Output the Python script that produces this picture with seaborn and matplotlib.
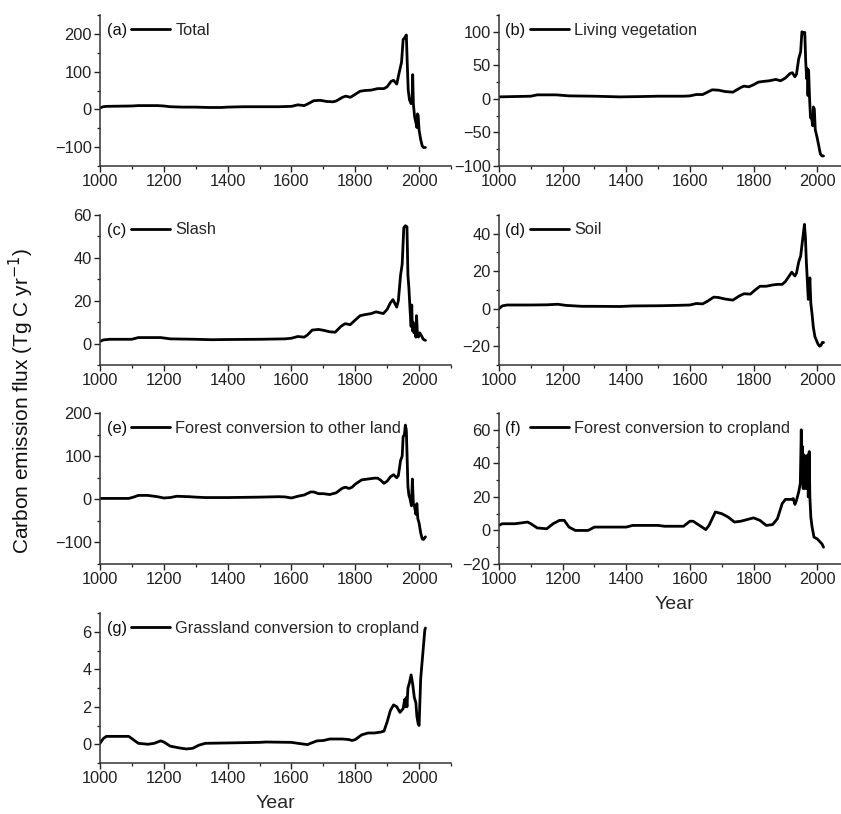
import numpy as np
import pandas as pd
import matplotlib
matplotlib.use("Agg")
import matplotlib.pyplot as plt
from matplotlib.ticker import MultipleLocator
import seaborn as sns

# ---------------- data ----------------
years_a = [1000,1010,1020,1100,1120,1180,1200,1220,1260,1300,1340,1380,1400,1450,1500,1560,1600,1620,1640,1650,1670,1690,1710,1730,1740,1760,1770,1785,1800,1815,1830,1850,1870,1890,1900,1912,1920,1930,1937,1945,1950,1955,1960,1963,1966,1970,1975,1978,1980,1982,1986,1990,1993,1995,1997,2000,2005,2010,2014,2020]
total = [4,7,8,9,10,10,9,7,6,6,5,5,6,7,7,7,8,12,10,14,23,24,21,20,22,32,35,32,40,48,50,51,55,55,60,74,77,67,95,125,185,190,197,120,50,25,15,20,92,15,-20,-35,-48,-12,-15,-55,-80,-97,-101,-101]

years_b = [1000,1050,1100,1120,1180,1220,1300,1380,1450,1500,1580,1600,1620,1640,1655,1670,1690,1710,1735,1760,1770,1785,1800,1815,1830,1850,1870,1885,1900,1915,1922,1930,1935,1942,1948,1952,1957,1961,1964,1967,1969,1971,1973,1976,1979,1983,1986,1988,1991,1994,2000,2005,2010,2015,2020]
living_veg = [3,3.5,4,6,6,4.5,4,3,3.5,4,4,4.5,6.5,6.5,10,13.5,13,11,10,17,19,18,21,25,26,27,29,27,31,38,39,33,37,60,70,100,98,99,55,30,45,5,43,2,-28,-30,-40,-12,-15,-46,-58,-70,-82,-85,-85]

years_c = [1000,1010,1030,1100,1120,1190,1220,1300,1350,1400,1500,1580,1600,1620,1640,1650,1665,1685,1700,1720,1737,1755,1768,1784,1800,1815,1830,1850,1865,1888,1900,1910,1918,1930,1935,1942,1947,1952,1957,1962,1965,1968,1972,1975,1977,1979,1981,1984,1987,1990,1992,1995,1998,2002,2008,2013,2020]
slash = [1,1.7,2,2,2.8,2.8,2.2,2,1.8,1.9,2,2.2,2.5,3.3,3,4,6.3,6.6,6.2,5.5,5.3,8,9.3,8.8,11,13,13.5,14,14.8,14,16,19,20.5,17,20,32,37,54,55,54.5,32,26,15,8,18,6,10,5,8,3,13,4,3,5,3.5,2,1.5]

years_d = [1000,1010,1025,1100,1150,1185,1210,1260,1300,1380,1420,1500,1560,1600,1620,1640,1655,1675,1690,1710,1735,1755,1770,1790,1805,1820,1840,1860,1875,1890,1900,1912,1920,1930,1935,1942,1948,1955,1960,1963,1966,1969,1972,1975,1977,1980,1984,1988,1993,1998,2003,2008,2012,2016,2020]
soil = [0,1.5,2,2,2.1,2.4,1.8,1.3,1.3,1.2,1.5,1.6,1.8,2,2.8,2.6,4,6.2,6,5.2,4.6,6.8,8,7.8,10,12,12,12.7,13,13,14.5,17.5,19.5,17.5,19,25,28,38,45,38,25,15,5,10,16.5,3,-3,-10,-15,-17,-19,-20,-19.5,-18,-18]

years_e = [1000,1050,1090,1105,1120,1150,1180,1200,1220,1240,1280,1300,1330,1400,1500,1560,1580,1600,1620,1640,1660,1670,1685,1700,1720,1740,1760,1770,1780,1790,1800,1820,1840,1860,1870,1880,1890,1900,1910,1920,1930,1935,1942,1947,1950,1954,1957,1960,1962,1965,1968,1972,1976,1979,1982,1986,1990,1993,1996,2000,2005,2010,2014,2020]
forest_other = [2,2,2,5,9,9,6,3,4,7,6,5,4,4,5,6,5.5,3,7,10,17,17,13,13,11,15,26,28,25,28,35,45,47,49,49,44,37,42,52,57,50,55,90,100,145,150,172,160,110,30,10,0,-15,47,-10,-18,-35,-10,-45,-55,-78,-92,-93,-87]

years_f = [1000,1010,1050,1090,1100,1120,1150,1170,1190,1205,1220,1240,1280,1300,1400,1420,1500,1520,1580,1600,1610,1630,1650,1660,1680,1700,1720,1740,1760,1780,1800,1820,1840,1860,1875,1890,1900,1920,1925,1930,1935,1942,1947,1950,1952,1954,1956,1959,1961,1964,1967,1970,1972,1975,1977,1980,1984,1990,2000,2005,2010,2015,2020]
forest_crop = [3,4,4,5,4,1.5,1,4,6,6,2,0,0,2,2,3,3,2.5,2.5,5.5,5.5,3,0.5,3,11,10,8,5,5.5,6.5,7.5,6,3,3.5,7,16,18.5,18.5,19,15.5,18,23,28,60,28,50,25,45,25,30,25,45,20,47,20,8,2,-4,-5,-6,-7,-8,-10]

years_g = [1000,1010,1020,1050,1090,1100,1120,1150,1170,1190,1200,1220,1250,1270,1290,1310,1330,1400,1500,1520,1600,1620,1650,1660,1680,1700,1720,1760,1780,1790,1800,1820,1840,1860,1880,1890,1900,1910,1920,1930,1940,1950,1955,1957,1960,1962,1965,1970,1975,1980,1985,1990,1993,1997,2000,2005,2010,2015,2018,2020]
grass_crop = [0.05,0.3,0.42,0.42,0.42,0.3,0.05,0.0,0.05,0.18,0.12,-0.1,-0.2,-0.25,-0.22,-0.05,0.05,0.07,0.1,0.12,0.1,0.05,-0.02,0.05,0.18,0.2,0.28,0.28,0.25,0.2,0.25,0.5,0.6,0.6,0.65,0.7,1.2,1.8,2.1,2.0,1.7,1.9,2.4,2.0,2.5,2.0,3.0,3.3,3.7,3.2,2.5,2.2,1.5,1.1,1.0,3.5,4.5,5.5,6.1,6.2]

panel_letters = ["(a)", "(b)", "(c)", "(d)", "(e)", "(f)", "(g)"]
panel_names = ["Total", "Living vegetation", "Slash", "Soil",
               "Forest conversion to other land", "Forest conversion to cropland",
               "Grassland conversion to cropland"]
x_ticks = [1000, 1200, 1400, 1600, 1800, 2000]
y_label = "Carbon emission flux (Tg C yr$^{-1}$)"
x_label = "Year"

series = [(years_a, total), (years_b, living_veg), (years_c, slash), (years_d, soil),
          (years_e, forest_other), (years_f, forest_crop), (years_g, grass_crop)]

# ---------------- styling / layout ----------------
sns.set_style("ticks")
plt.rcParams["font.family"] = ["Liberation Sans", "DejaVu Sans"]
plt.rcParams["axes.unicode_minus"] = True

W, H = 841, 814
fig = plt.figure(figsize=(W / 100, H / 100), dpi=100)

col_x = [100, 499]
col_w = [351, 350]
row_top = [15, 215, 413, 613]
row_h = [151, 150, 151, 150]

ylims = [(-150, 250), (-100, 125), (-10, 60), (-30, 50), (-150, 200), (-20, 70), (-1, 7)]
ymaj = [100, 50, 20, 20, 100, 20, 2]
ymin = [50, 25, 10, 10, 50, 10, 1]

FS = 11.8
for i, (yrs, vals) in enumerate(series):
    r, c = divmod(i, 2)
    rect = [col_x[c] / W, 1 - (row_top[r] + row_h[r]) / H, col_w[c] / W, row_h[r] / H]
    ax = fig.add_axes(rect)
    df = pd.DataFrame({"year": yrs, "value": vals})
    sns.lineplot(data=df, x="year", y="value", ax=ax, color="black", linewidth=2.0,
                 label=panel_names[i])
    ax.set_xticks(x_ticks)
    ax.xaxis.set_minor_locator(MultipleLocator(100))
    ax.yaxis.set_major_locator(MultipleLocator(ymaj[i]))
    ax.yaxis.set_minor_locator(MultipleLocator(ymin[i]))
    ax.set_ylim(*ylims[i])
    ax.set_xlim(1000, 2100)
    for s in ["top", "right"]:
        ax.spines[s].set_visible(False)
    for s in ["left", "bottom"]:
        ax.spines[s].set_linewidth(1.1)
        ax.spines[s].set_color("#333333")
    ax.tick_params(which="major", length=4, width=1.0, labelsize=FS, colors="#222222", pad=2)
    ax.tick_params(which="minor", length=2.5, width=0.9, colors="#222222")
    ax.set_ylabel("")
    if i in (5, 6):
        ax.set_xlabel(x_label, fontsize=14, labelpad=6)
    else:
        ax.set_xlabel("")
    ax.text(0.02 if c == 0 else 0.017, 0.9, panel_letters[i], transform=ax.transAxes,
            va="center", ha="left", fontsize=FS, color="#111111")
    ax.legend(loc="center left", bbox_to_anchor=(0.088, 0.9), frameon=False,
              borderpad=0, borderaxespad=0, handlelength=2.4, handletextpad=0.3,
              fontsize=FS)

fig.text(0.026, 0.507, y_label, rotation=90, va="center", ha="center", fontsize=15,
         color="#111111")

fig.savefig("out.png", dpi=100)
